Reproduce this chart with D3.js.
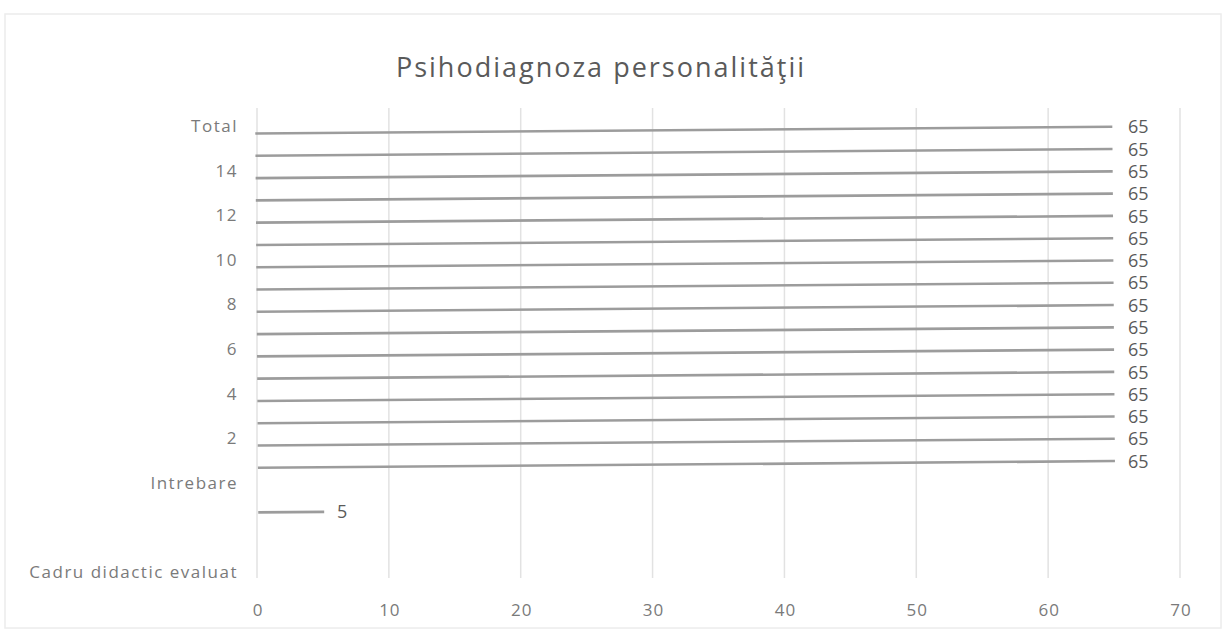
<!DOCTYPE html>
<html>
<head>
<meta charset="utf-8">
<script src="https://cdn.jsdelivr.net/npm/d3@7"></script>
<style>
  body { margin: 0; background: #fff; }
  text { font-family: "Open Sans", sans-serif; }
</style>
</head>
<body>
<div class="chart"></div>
<script>

// categories from bottom to top, like the sheet
const categories = ["Cadru didactic evaluat", "", "", "", "Intrebare",
    "1", "2", "3", "4", "5", "6", "7", "8", "9", "10", "11", "12", "13", "14", "15", "Total"];
const values = [null, null, null, 5, null,
    65, 65, 65, 65, 65, 65, 65, 65, 65, 65, 65, 65, 65, 65, 65, 65];
const xTicks = [0, 10, 20, 30, 40, 50, 60, 70];
const title = "Psihodiagnoza personalităţii";

const width = 1223, height = 639;

let svg = d3.select('.chart')
    .append('svg')
    .attr('width', width)
    .attr('height', height);

// faint frame of the chart area
svg.append('rect')
    .attr('x', 5).attr('y', 14)
    .attr('width', 1216).attr('height', 614)
    .attr('fill', 'none')
    .attr('stroke', '#ececec')
    .attr('stroke-width', 1.5);

let x = d3.scaleLinear().domain([0, 70]).range([257, 1180]);
let y = d3.scaleBand()
    .domain(d3.range(categories.length).reverse())
    .range([119, 587]);

// gridlines
svg.append('g').selectAll('line')
    .data(xTicks)
    .enter()
    .append('line')
    .attr('x1', d => x(d)).attr('x2', d => x(d))
    .attr('y1', 108).attr('y2', 578)
    .attr('stroke', '#e2e2e2')
    .attr('stroke-width', 1.5);

// x tick labels
svg.append('g').selectAll('text')
    .data(xTicks)
    .enter()
    .append('text')
    .attr('x', d => x(d) + 1)
    .attr('y', 610)
    .attr('dy', '.35em')
    .attr('text-anchor', 'middle')
    .attr('font-size', 17)
    .attr('letter-spacing', 1)
    .attr('fill', '#7a7a7a')
    .text(d => d);

// category labels, every other one (like excel does)
svg.append('g').selectAll('text')
    .data(d3.range(categories.length).filter(i => i % 2 == 0))
    .enter()
    .append('text')
    .attr('x', 238)
    .attr('y', d => y(d) + y.bandwidth() / 2 - 4)
    .attr('dy', '.35em')
    .attr('text-anchor', 'end')
    .attr('font-size', 17)
    .attr('letter-spacing', 1.5)
    .attr('fill', '#7a7a7a')
    .text(d => categories[d]);

let barData = d3.range(categories.length).filter(i => values[i] != null);

// bars (scan is slightly tilted)
svg.append('g')
    .attr('transform', 'rotate(-0.45, 685, 350)')
    .selectAll('rect')
    .data(barData)
    .enter()
    .append('rect')
    .attr('x', x(0))
    .attr('y', d => y(d) + y.bandwidth() / 2 - 1.3)
    .attr('width', d => x(values[d]) - x(0))
    .attr('height', 2.6)
    .attr('fill', '#9c9c9c');

// data labels
svg.append('g').selectAll('text')
    .data(barData)
    .enter()
    .append('text')
    .attr('x', d => x(values[d]) + 14)
    .attr('y', d => y(d) + y.bandwidth() / 2 - (values[d] > 10 ? 3 : -3))
    .attr('dy', '.35em')
    .attr('font-size', 18)
    .attr('fill', '#5a5a5a')
    .text(d => values[d]);

svg.append('text')
    .attr('x', 601)
    .attr('y', 68)
    .attr('dy', '.35em')
    .attr('text-anchor', 'middle')
    .attr('font-size', 27)
    .attr('letter-spacing', 2)
    .attr('fill', '#5a5a5a')
    .text(title);

</script>
</body>
</html>
